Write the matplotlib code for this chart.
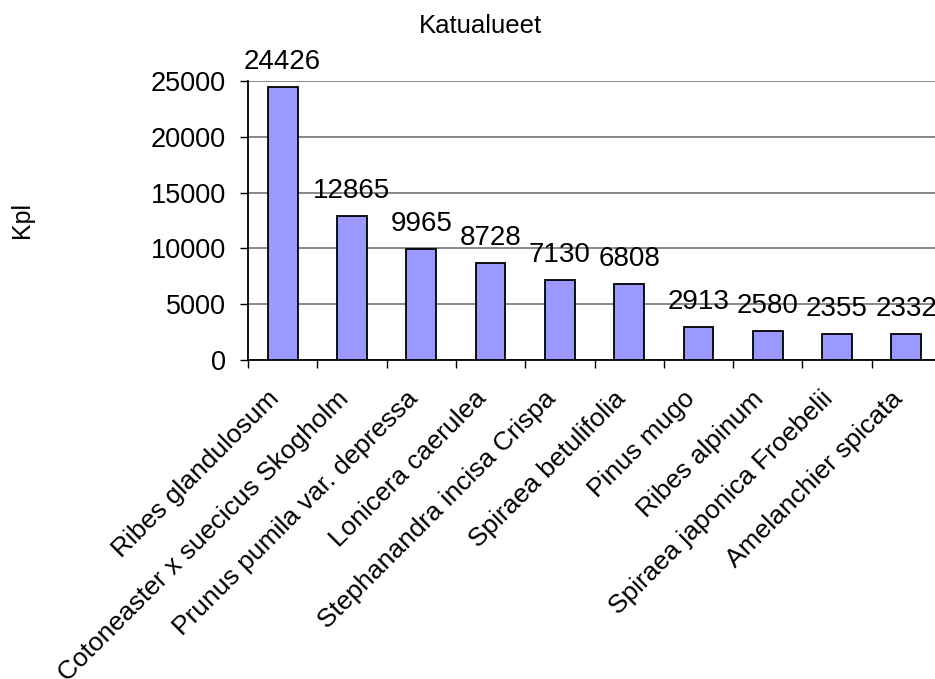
import numpy as np
import matplotlib.pyplot as plt
from matplotlib.transforms import ScaledTranslation

plt.rcParams['font.family'] = ['Liberation Sans', 'DejaVu Sans']

species = ['Ribes glandulosum', 'Cotoneaster x suecicus Skogholm',
           'Prunus pumila var. depressa', 'Lonicera caerulea',
           'Stephanandra incisa Crispa', 'Spiraea betulifolia',
           'Pinus mugo', 'Ribes alpinum', 'Spiraea japonica Froebelii',
           'Amelanchier spicata']
counts = [24426, 12865, 9965, 8728, 7130, 6808, 2913, 2580, 2355, 2332]
yticks = [0, 5000, 10000, 15000, 20000, 25000]

fig = plt.figure(figsize=(9.35, 6.79), dpi=100)
# axes run past the right edge, as in the original cropped image
ax = fig.add_axes([248 / 935, 319 / 679, 693 / 935, 279 / 679])

x = np.arange(len(species))
ax.bar(x, counts, width=0.43, color='#9999FF', edgecolor='black',
       linewidth=1.3, zorder=3)

for xi, v in zip(x, counts):
    ax.annotate(str(v), (xi, v), xytext=(0, 13), textcoords='offset points',
                ha='center', va='baseline', fontsize=20)

ax.set_xlim(-0.5, len(species) - 0.5)
ax.set_ylim(0, 25000)
ax.set_yticks(yticks)
ax.set_yticklabels([str(t) for t in yticks], fontsize=19.5)
ax.yaxis.grid(True, color='#808080', linewidth=1.3, zorder=0)
ax.tick_params(axis='y', length=6, width=1, pad=10)

ax.set_xticks(x)
ax.set_xticklabels(species, rotation=45, ha='right', va='top',
                   rotation_mode='anchor', fontsize=19)
ax.set_xticks(np.arange(-0.5, len(species), 1.0), minor=True)
ax.tick_params(axis='x', which='major', length=0, pad=19)
ax.tick_params(axis='x', which='minor', length=6, width=1)

# nudge category labels left (after tick_params, which resets transforms)
shift = ScaledTranslation(-16 / 100, 0, fig.dpi_scale_trans)
for lbl in ax.get_xticklabels():
    lbl.set_transform(lbl.get_transform() + shift)

for s in ['top', 'right']:
    ax.spines[s].set_visible(False)
for s in ['left', 'bottom']:
    ax.spines[s].set_linewidth(1.3)

fig.text(480 / 935, 1 - 33 / 679, 'Katualueet', ha='center', va='baseline',
         fontsize=18.5)
fig.text(22 / 935, 1 - 220 / 679, 'Kpl', ha='center', va='center',
         rotation=90, fontsize=18)

fig.savefig('out.png', dpi=100)
